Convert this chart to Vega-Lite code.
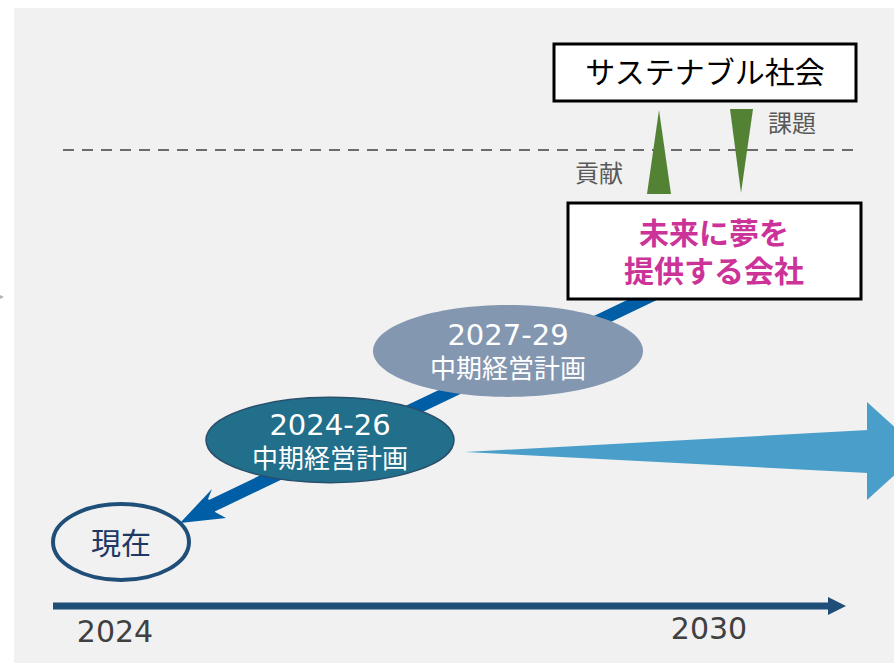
{
  "$schema": "https://vega.github.io/schema/vega-lite/v6.json",
  "width": 894,
  "height": 663,
  "autosize": "none",
  "padding": 0,
  "background": "white",
  "config": {"view": {"stroke": null}},
  "datasets": {
    "bg": [{"x": 14, "x2": 900, "y": 8, "y2": 670}],
    "boxes": [{"x": 554, "x2": 856, "y": 44, "y2": 101}, {"x": 568, "x2": 861, "y": 203, "y2": 299}],
    "dash": [{"x": 63, "x2": 858, "y": 150, "y2": 150}],
    "shaft": [{"x": 205, "x2": 665, "y": 509, "y2": 289}],
    "timeline": [{"x": 53, "x2": 832, "y": 606, "y2": 606}],
    "diaghead": [{"x": 180, "y": 523}],
    "timehead": [{"x": 837, "y": 606}],
    "leftmark": [{"x": -3, "y": 297}],
    "plan2024": [{"x": 330, "y": 440}],
    "plan2027": [{"x": 508, "y": 351}],
    "now": [{"x": 121, "y": 542}],
    "up": [{"x": 647, "y": 194, "y2": 194}, {"x": 659, "y": 110, "y2": 194}, {"x": 671, "y": 194, "y2": 194}],
    "down": [{"x": 730, "y": 109, "y2": 109}, {"x": 741, "y": 109, "y2": 193}, {"x": 753, "y": 109, "y2": 109}],
    "wedge": [{"x": 465, "y": 452, "y2": 452}, {"x": 868, "y": 430, "y2": 473}],
    "wedgehead": [{"x": 867, "y": 402, "y2": 500}, {"x": 921, "y": 451, "y2": 451}],
    "t_black": [{"x": 705, "y": 74, "text": "サステナブル社会"}],
    "t_grey": [{"x": 792, "y": 125, "text": "課題"}, {"x": 599, "y": 175, "text": "貢献"}],
    "t_magenta": [{"x": 714, "y": 235, "text": "未来に夢を"}, {"x": 714, "y": 273, "text": "提供する会社"}],
    "t_years_w": [{"x": 508, "y": 336, "text": "2027-29"}, {"x": 330, "y": 426, "text": "2024-26"}],
    "t_plan_w": [{"x": 508, "y": 370, "text": "中期経営計画"}, {"x": 330, "y": 460, "text": "中期経営計画"}],
    "t_now": [{"x": 121, "y": 545, "text": "現在"}],
    "t_axis": [{"x": 115, "y": 633, "text": "2024"}, {"x": 709, "y": 630, "text": "2030"}]
  },
  "encoding": {
    "x": {"field": "x", "type": "quantitative", "axis": null, "scale": {"domain": [0, 894], "nice": false, "zero": false}},
    "y": {"field": "y", "type": "quantitative", "axis": null, "scale": {"domain": [0, 663], "nice": false, "zero": false, "reverse": true}}
  },
  "layer": [
    {"data": {"name": "bg"}, "mark": {"type": "rect", "color": "#f1f1f1"},
     "encoding": {"x2": {"field": "x2"}, "y2": {"field": "y2"}}},
    {"data": {"name": "leftmark"}, "mark": {"type": "point", "filled": true, "opacity": 1, "color": "#b4b4b4", "size": 196, "shape": "M-1,-1 L1,0 L-1,1 Z"}},
    {"data": {"name": "dash"}, "mark": {"type": "rule", "color": "#6b6b6b", "strokeWidth": 2, "strokeDash": [11, 8]},
     "encoding": {"x2": {"field": "x2"}, "y2": {"field": "y2"}}},
    {"data": {"name": "shaft"}, "mark": {"type": "rule", "color": "#005ea6", "strokeWidth": 13},
     "encoding": {"x2": {"field": "x2"}, "y2": {"field": "y2"}}},
    {"data": {"name": "diaghead"}, "mark": {"type": "point", "filled": true, "opacity": 1, "color": "#005ea6", "size": 400, "shape": "M0,0 L3.2,-3.4 L2.8,-2.4 L3.4,-1.9 L3.5,-1.1 L4.6,-0.5 Z"}},
    {"data": {"name": "plan2024"}, "mark": {"type": "point", "filled": true, "opacity": 1, "fill": "#216f8a", "stroke": "#2a4f6c", "strokeWidth": 1.5, "size": 61504, "shape": "M1,0 C1,0.19 0.5523,0.344 0,0.344 C-0.5523,0.344 -1,0.19 -1,0 C-1,-0.19 -0.5523,-0.344 0,-0.344 C0.5523,-0.344 1,-0.19 1,0 Z"}},
    {"data": {"name": "plan2027"}, "mark": {"type": "point", "filled": true, "opacity": 1, "fill": "#8497b0", "size": 72900, "shape": "M1,0 C1,0.1878 0.5523,0.34 0,0.34 C-0.5523,0.34 -1,0.1878 -1,0 C-1,-0.1878 -0.5523,-0.34 0,-0.34 C0.5523,-0.34 1,-0.1878 1,0 Z"}},
    {"data": {"name": "now"}, "mark": {"type": "point", "filled": false, "opacity": 1, "color": "#1f4e79", "strokeWidth": 4, "size": 18496, "shape": "M1,0 C1,0.3087 0.5523,0.559 0,0.559 C-0.5523,0.559 -1,0.3087 -1,0 C-1,-0.3087 -0.5523,-0.559 0,-0.559 C0.5523,-0.559 1,-0.3087 1,0 Z"}},
    {"data": {"name": "wedge"}, "mark": {"type": "area", "color": "#4a9fca", "opacity": 1},
     "encoding": {"y2": {"field": "y2"}}},
    {"data": {"name": "wedgehead"}, "mark": {"type": "area", "color": "#4a9fca", "opacity": 1},
     "encoding": {"y2": {"field": "y2"}}},
    {"data": {"name": "timeline"}, "mark": {"type": "rule", "color": "#1f4e79", "strokeWidth": 7},
     "encoding": {"x2": {"field": "x2"}, "y2": {"field": "y2"}}},
    {"data": {"name": "timehead"}, "mark": {"type": "point", "filled": true, "opacity": 1, "color": "#1f4e79", "size": 324, "shape": "M-1,-1 L1,0 L-1,1 Z"}},
    {"data": {"name": "boxes"}, "mark": {"type": "rect", "fill": "white", "stroke": "black", "strokeWidth": 3},
     "encoding": {"x2": {"field": "x2"}, "y2": {"field": "y2"}}},
    {"data": {"name": "up"}, "mark": {"type": "area", "color": "#548235", "opacity": 1},
     "encoding": {"y2": {"field": "y2"}}},
    {"data": {"name": "down"}, "mark": {"type": "area", "color": "#548235", "opacity": 1},
     "encoding": {"y2": {"field": "y2"}}},
    {"data": {"name": "t_black"}, "mark": {"type": "text", "font": "Noto Sans CJK JP", "fontSize": 30, "color": "#000000", "baseline": "middle", "align": "center"},
     "encoding": {"text": {"field": "text"}}},
    {"data": {"name": "t_grey"}, "mark": {"type": "text", "font": "Noto Sans CJK JP", "fontSize": 24, "color": "#595959", "baseline": "middle", "align": "center"},
     "encoding": {"text": {"field": "text"}}},
    {"data": {"name": "t_magenta"}, "mark": {"type": "text", "font": "Noto Sans CJK JP", "fontSize": 30, "fontWeight": "bold", "color": "#cc3399", "baseline": "middle", "align": "center"},
     "encoding": {"text": {"field": "text"}}},
    {"data": {"name": "t_years_w"}, "mark": {"type": "text", "font": "DejaVu Sans", "fontSize": 29, "color": "#ffffff", "baseline": "middle", "align": "center"},
     "encoding": {"text": {"field": "text"}}},
    {"data": {"name": "t_plan_w"}, "mark": {"type": "text", "font": "Noto Sans CJK JP", "fontSize": 26, "color": "#ffffff", "baseline": "middle", "align": "center"},
     "encoding": {"text": {"field": "text"}}},
    {"data": {"name": "t_now"}, "mark": {"type": "text", "font": "Noto Sans CJK JP", "fontSize": 30, "color": "#203864", "baseline": "middle", "align": "center"},
     "encoding": {"text": {"field": "text"}}},
    {"data": {"name": "t_axis"}, "mark": {"type": "text", "font": "DejaVu Sans", "fontSize": 30, "color": "#404040", "baseline": "middle", "align": "center"},
     "encoding": {"text": {"field": "text"}}}
  ]
}
